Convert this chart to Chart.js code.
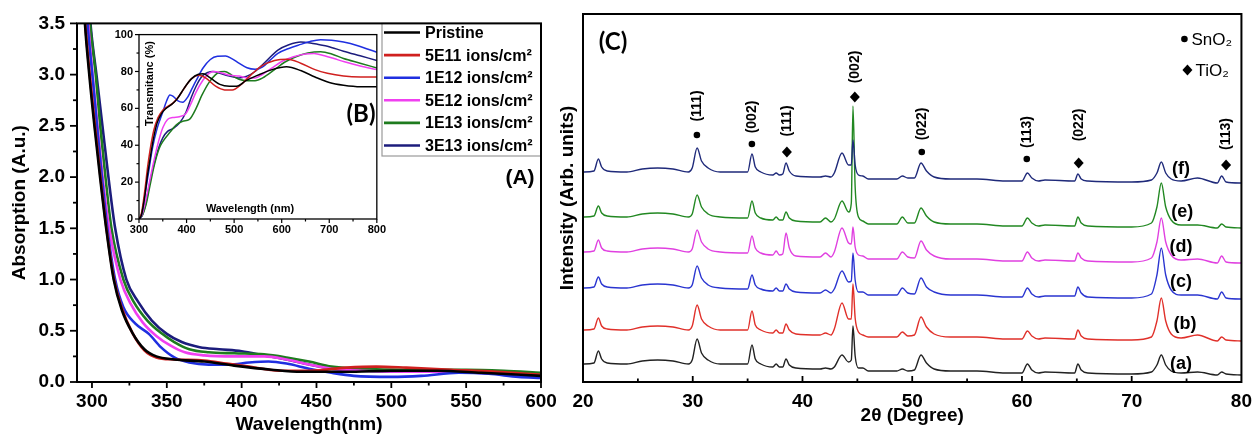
<!DOCTYPE html>
<html><head><meta charset="utf-8">
<script src="https://cdn.jsdelivr.net/npm/chart.js@4.4.1/dist/chart.umd.min.js"></script>
<style>
html,body{margin:0;padding:0;background:#fff;}
body{width:1260px;height:435px;position:relative;overflow:hidden;}
canvas{position:absolute;}
</style></head>
<body>
<canvas id="chartA" width="570" height="435" style="left:0;top:0"></canvas>
<canvas id="chartC" width="715" height="435" style="left:545px;top:0"></canvas>
<canvas id="chartB" width="290" height="222" style="left:100px;top:22px"></canvas>
<script>
// ---------------- Panel A: absorption ----------------
const absLabels = ['Pristine', '5E11 ions/cm²', '1E12 ions/cm²', '5E12 ions/cm²', '1E13 ions/cm²', '3E13 ions/cm²'];
const absPristine = [[292,4.4],[295.3,3.5],[298.2,3.0],[302,2.45],[305.4,2.0],[309.5,1.5],[314.5,1.0],[320,0.7],[327,0.48],[335,0.32],[343,0.25],[355,0.22],[375,0.2],[395,0.16],[420,0.12],[440,0.1],[470,0.1],[500,0.11],[530,0.11],[560,0.09],[600,0.06]];
const abs5E11 = [[292,4.3],[295.5,3.5],[298.5,3.0],[302,2.5],[305.7,2.0],[309.7,1.5],[314.8,1.0],[320,0.72],[327,0.48],[335,0.31],[343,0.24],[355,0.22],[375,0.21],[390,0.18],[405,0.15],[425,0.11],[445,0.11],[470,0.14],[490,0.15],[510,0.14],[540,0.12],[570,0.1],[600,0.07]];
const abs1E12 = [[293,4.4],[297,3.5],[300.9,2.9],[304,2.4],[307,1.95],[310.3,1.5],[315.5,1.0],[321,0.73],[329,0.57],[338,0.47],[346,0.34],[355,0.24],[365,0.19],[378,0.17],[392,0.17],[405,0.19],[418,0.2],[430,0.18],[445,0.13],[460,0.09],[475,0.06],[500,0.05],[520,0.06],[545,0.09],[565,0.08],[585,0.05],[600,0.04]];
const abs5E12 = [[293.5,4.4],[297.5,3.5],[301,2.9],[304,2.45],[307.5,1.95],[311.5,1.5],[319,1.0],[326,0.76],[334,0.58],[343,0.45],[352,0.36],[362,0.29],[375,0.26],[395,0.25],[415,0.25],[430,0.22],[445,0.17],[460,0.13],[480,0.11],[510,0.1],[540,0.1],[570,0.08],[600,0.06]];
const abs1E13 = [[294.5,4.4],[298.7,3.5],[302.5,3.0],[305.5,2.5],[309,2.0],[313,1.5],[321,1.0],[328,0.78],[337,0.6],[346,0.48],[355,0.39],[365,0.32],[378,0.29],[395,0.28],[415,0.27],[430,0.24],[445,0.2],[460,0.15],[480,0.13],[510,0.12],[550,0.12],[575,0.11],[600,0.09]];
const abs3E13 = [[295,4.4],[299,3.5],[303,3.0],[307,2.5],[311,2.0],[315.5,1.5],[323,1.0],[331,0.78],[340,0.6],[350,0.47],[360,0.39],[372,0.34],[385,0.32],[400,0.3],[415,0.26],[430,0.22],[445,0.17],[460,0.13],[480,0.11],[510,0.1],[550,0.1],[575,0.08],[600,0.07]];
const absTicksX = [300, 350, 400, 450, 500, 550, 600];
const absMinorX = [325, 375, 425, 475, 525, 575];
const absTicksY = [0, 0.5, 1.0, 1.5, 2.0, 2.5, 3.0, 3.5];
const absMinorY = [0.25, 0.75, 1.25, 1.75, 2.25, 2.75, 3.25];

// ---------------- Panel B: transmittance inset ----------------
const trPristine = [[300,0],[305,2],[312,12],[318,24],[323,32],[330,43],[338,52],[347,57],[357,60],[368,62],[380,65],[395,71],[410,76],[425,78.5],[435,78.8],[450,76.5],[470,73],[490,72],[505,72],[525,75],[550,78],[580,81],[610,82.5],[640,80.5],[670,77],[700,74],[730,72.5],[766,71.7],[800,71.7]];
const tr5E11 = [[300,0],[305,3],[312,15],[318,28],[323,37],[331,48],[340,55],[350,59],[360,61],[372,63],[385,67],[398,72],[410,76],[426,78],[440,76.5],[461,72],[480,70],[496,70],[515,73],[535,78],[558,83],[585,86],[613,86.7],[640,84.5],[670,81],[696,79],[730,77.5],[766,77],[800,77]];
const tr1E12 = [[300,0],[305,2],[313,14],[320,25],[328,38],[338,49],[350,58],[358,64],[365,67.3],[372,66.5],[382,64],[392,63.3],[402,66],[412,71],[420,75],[435,82],[450,86.5],[465,88.2],[482,88.4],[495,87],[510,84.5],[527,82],[544,81.2],[560,82.5],[575,86],[592,89.8],[615,92.5],[640,94.7],[660,96.3],[682,97.2],[705,97],[730,96],[760,94],[800,90.4]];
const tr5E12 = [[300,0],[306,2],[314,10],[322,20],[330,30],[340,41],[350,49.5],[360,54],[371,55],[385,55.5],[398,57],[410,63],[420,68.8],[435,75.5],[447,79],[458,80],[470,79.5],[490,78],[510,77.5],[530,76.5],[544,76.5],[560,78.5],[580,82],[600,85.4],[625,88],[650,89.5],[668,89.8],[690,88.5],[710,87],[730,85.4],[765,83],[800,81]];
const tr1E13 = [[300,0],[307,2],[315,8],[323,18],[332,29],[342,38],[350,42],[365,47],[378,51],[392,53],[406,54],[420,60],[432,67],[447,74],[460,78],[470,79.8],[480,80],[495,78],[510,75.8],[530,75],[544,75],[560,76.5],[585,81],[606,85],[630,88],[655,90],[682,90.7],[705,89.5],[730,87],[765,84.5],[800,81.9]];
const tr3E13 = [[300,0],[307,2],[315,9],[323,20],[332,30],[342,39],[350,44],[360,47.5],[371,49],[385,52],[399,58],[410,66],[420,72],[433,77.5],[445,79.5],[455,80],[470,79],[490,77.5],[510,76.5],[527,77.5],[544,80],[565,85],[592,91.6],[615,94.5],[640,96],[660,95.5],[680,94.5],[696,93.7],[730,91],[765,88.5],[800,86]];
const trTicksX = [300, 400, 500, 600, 700, 800];
const trMinorX = [350, 450, 550, 650, 750];
const trTicksY = [0, 20, 40, 60, 80, 100];
const trMinorY = [10, 30, 50, 70, 90];

// ---------------- Panel C: XRD ----------------
const xrdTwoTheta = [20,21.0,21.4,21.7,22.2,24,25.4,26.8,28.2,29.6,29.95,30.4,30.8,31.4,32.5,35.0,35.4,35.7,36.2,37.3,37.6,37.9,38.2,38.5,38.8,39.4,41.6,42.1,42.6,42.9,43.6,44.2,44.45,44.6,44.8,45.1,45.5,46.0,48.6,49.1,49.6,50.2,50.8,51.3,52.0,53.5,55.9,58.5,60.0,60.5,60.9,61.5,62.1,64.8,65.1,65.4,66.0,70.0,71.8,72.3,72.7,73.1,73.6,74.5,76.0,77.8,78.2,78.6,80];
const xrdA = [18,19,31,23,19,18,21,22,21,18,22,43,29,22,18,18,37,23,18,15,18,15,15,23,17,14,13,14,13,15,27,20,22,56,26,14,14,11,11,13,11,12,27,19,13,11,11,9,9,18,12,9,10,9,18,12,9,8,10,17,27,17,11,9,10,7,10,8,7];
const xrdB = [52,53,64,56,53,52,55,56,55,52,56,77,63,56,52,52,71,57,52,49,52,49,49,58,52,48,47,49,47,53,79,63,63,98,64,50,47,45,45,50,46,47,65,55,48,45,45,43,43,51,46,43,44,43,52,46,43,42,45,61,84,61,48,44,47,41,45,42,41];
const xrdC = [94,95,105,98,95,94,97,98,97,94,97,116,104,97,94,93,107,97,93,91,94,91,91,98,93,90,89,92,89,93,111,100,101,129,102,90,90,87,87,94,89,88,104,95,90,87,87,85,85,94,88,85,86,86,95,89,85,84,88,107,134,107,92,87,87,83,90,84,83];
const xrdD = [130,131,142,134,131,130,133,134,133,130,133,152,140,133,130,129,146,134,129,127,131,127,128,149,134,126,125,129,125,130,154,139,138,155,135,127,126,123,123,130,125,124,141,132,126,123,123,121,121,130,124,121,122,121,129,124,121,120,124,140,164,140,127,122,123,119,126,120,119];
const xrdE = [165,166,176,169,166,165,168,169,168,165,168,187,175,168,165,164,181,169,164,162,165,162,162,170,164,161,160,164,160,163,181,170,179,276,195,165,161,158,158,165,159,159,174,166,160,158,158,156,156,164,159,156,157,156,165,159,156,155,159,175,199,175,162,157,157,154,158,155,154];
const xrdF = [210,211,223,215,211,210,213,214,213,210,214,234,221,214,210,210,228,215,210,207,209,207,208,219,211,206,205,206,205,209,229,217,217,242,217,207,206,203,203,206,204,204,219,211,205,203,203,201,201,209,204,201,202,201,208,203,201,200,202,209,220,209,203,201,204,199,206,200,199];
const xrdTags = ['(a)', '(b)', '(c)', '(d)', '(e)', '(f)'];
const xrdTicksX = [20, 30, 40, 50, 60, 70, 80];
const xrdMinorX = [25, 35, 45, 55, 65, 75];
const peakHkl = ['(111)', '(002)', '(111)', '(002)', '(022)', '(113)', '(022)', '(113)'];
const peakPhase = ['SnO₂', 'SnO₂', 'TiO₂', 'TiO₂', 'SnO₂', 'SnO₂', 'TiO₂', 'TiO₂'];
const peakAngle = [30.38, 35.39, 38.58, 44.77, 50.87, 60.44, 65.17, 78.6];

// ---------------- styles ----------------
const FONT = "'Liberation Sans', Arial, Helvetica, sans-serif";
const CAL = "Lato, 'Open Sans', sans-serif";
Chart.defaults.font.family = FONT;
Chart.defaults.color = '#000';
const seriesColorsA = ['#000000', '#d0201f', '#1f2fe0', '#f040f0', '#1e7b1e', '#1c1c7c'];
const seriesColorsC = ['#222222', '#e0302a', '#2a35d0', '#e040e0', '#228822', '#1f2a7a'];

function txt(ctx, s, x, y, font, align, base, rot) {
  ctx.save();
  ctx.font = font; ctx.fillStyle = '#000';
  ctx.textAlign = align || 'center'; ctx.textBaseline = base || 'middle';
  ctx.translate(x, y);
  if (rot) ctx.rotate(rot);
  ctx.fillText(s, 0, 0);
  ctx.restore();
}

function framePlugin(id, cfg, extra) {
  return {
    id,
    beforeDraw(chart) {
      if (!cfg.bg) return;
      const a = chart.chartArea, ctx = chart.ctx;
      ctx.save(); ctx.fillStyle = cfg.bg;
      ctx.fillRect(a.left, a.top, a.right - a.left, a.bottom - a.top);
      ctx.restore();
    },
    afterDraw(chart) {
      const {ctx, chartArea: a, scales} = chart;
      if (extra) extra(chart, ctx, a, scales);
      ctx.save();
      ctx.strokeStyle = '#000';
      ctx.lineWidth = cfg.tickWidth;
      const tick = (axis, vals, len, dir) => {
        const s = scales[axis];
        vals.forEach(v => {
          const p = s.getPixelForValue(v);
          ctx.beginPath();
          if (axis === 'x') {
            ctx.moveTo(p, a.bottom); ctx.lineTo(p, dir === 'out' ? a.bottom + len : a.bottom - len);
          } else {
            ctx.moveTo(a.left, p); ctx.lineTo(dir === 'out' ? a.left - len : a.left + len, p);
          }
          ctx.stroke();
        });
      };
      if (cfg.x) { tick('x', cfg.x.major, cfg.x.majLen, cfg.x.dir); tick('x', cfg.x.minor, cfg.x.minLen, cfg.x.dir); }
      if (cfg.y) { tick('y', cfg.y.major, cfg.y.majLen, cfg.y.dir); tick('y', cfg.y.minor, cfg.y.minLen, cfg.y.dir); }
      ctx.lineWidth = cfg.frameWidth;
      ctx.strokeRect(a.left, a.top, a.right - a.left, a.bottom - a.top);
      ctx.restore();
    }
  };
}

const toXY = arr => arr.map(p => ({x: p[0], y: p[1]}));
const baseOpts = {responsive: false, animation: false, devicePixelRatio: 1, events: [],
  plugins: {legend: {display: false}, tooltip: {enabled: false}}};

// ---------- Chart A ----------
const absSeries = [absPristine, abs5E11, abs1E12, abs5E12, abs1E13, abs3E13];
new Chart(document.getElementById('chartA'), {
  type: 'line',
  data: {datasets: absSeries.map((s, i) => ({
    label: absLabels[i], data: toXY(s), borderColor: seriesColorsA[i], borderWidth: 2.6,
    pointRadius: 0, fill: false, cubicInterpolationMode: 'monotone'}))},
  options: Object.assign({}, baseOpts, {
    layout: {padding: {left: 0, top: 19, right: 29, bottom: 0}},
    scales: {
      x: {type: 'linear', min: 290, max: 600,
        afterBuildTicks: s => { s.ticks = absTicksX.map(v => ({value: v})); },
        afterFit: s => { s.height = 53; },
        grid: {display: false, drawTicks: false}, border: {display: false},
        ticks: {font: {size: 19, weight: 'bold'}, padding: 8, maxRotation: 0, autoSkip: false},
        title: {display: true, text: 'Wavelength(nm)', font: {size: 19, weight: 'bold', lineHeight: 1}, padding: {top: 0, bottom: 0.5}}},
      y: {type: 'linear', min: 0, max: 3.5,
        afterBuildTicks: s => { s.ticks = absTicksY.map(v => ({value: v})); },
        afterFit: s => { s.width = 77; },
        grid: {display: false, drawTicks: false}, border: {display: false},
        ticks: {font: {size: 19, weight: 'bold'}, padding: 12, autoSkip: false, callback: v => Number(v).toFixed(1)},
        title: {display: true, text: 'Absorption (A.u.)', font: {size: 19, weight: 'bold', lineHeight: 1}, padding: {top: 10.5, bottom: 0}}}
    }
  }),
  plugins: [framePlugin('frameA', {
    frameWidth: 2, tickWidth: 1.8,
    x: {major: absTicksX, minor: absMinorX, majLen: 6, minLen: 3.5, dir: 'out'},
    y: {major: absTicksY, minor: absMinorY, majLen: 7, minLen: 4, dir: 'out'}
  }, (chart, ctx, a) => {
    const bx = 382, by = a.top, bw = a.right - 382, bh = 156 - a.top;
    ctx.save();
    ctx.fillStyle = '#fff'; ctx.fillRect(bx, by, bw, bh);
    ctx.strokeStyle = '#9a9a9a'; ctx.lineWidth = 1.2; ctx.strokeRect(bx, by, bw, bh);
    chart.data.datasets.forEach((ds, i) => {
      const y = 32.5 + i * 22.6;
      ctx.strokeStyle = ds.borderColor; ctx.lineWidth = 2.6;
      ctx.beginPath(); ctx.moveTo(384, y); ctx.lineTo(420, y); ctx.stroke();
      txt(ctx, ds.label, 425, y + 1, 'bold 16px ' + FONT, 'left', 'middle');
    });
    ctx.restore();
    txt(ctx, '(A)', 520, 178, 'bold 21px ' + FONT);
  })]
});

// ---------- Chart B (inset) ----------
const trSeries = [trPristine, tr5E11, tr1E12, tr5E12, tr1E13, tr3E13];
new Chart(document.getElementById('chartB'), {
  type: 'line',
  data: {datasets: trSeries.map((s, i) => ({
    label: absLabels[i], data: toXY(s), borderColor: seriesColorsA[i], borderWidth: 1.5,
    pointRadius: 0, fill: false, cubicInterpolationMode: 'monotone'}))},
  options: Object.assign({}, baseOpts, {
    layout: {padding: {left: 0, top: 7, right: 10, bottom: 0}},
    scales: {
      x: {type: 'linear', min: 300, max: 800,
        afterBuildTicks: s => { s.ticks = trTicksX.map(v => ({value: v})); },
        afterFit: s => { s.height = 25; },
        grid: {display: false, drawTicks: false}, border: {display: false},
        ticks: {font: {size: 11, weight: 'bold'}, padding: 4, maxRotation: 0, autoSkip: false}},
      y: {type: 'linear', min: 0, max: 100,
        afterBuildTicks: s => { s.ticks = trTicksY.map(v => ({value: v})); },
        afterFit: s => { s.width = 39; },
        grid: {display: false, drawTicks: false}, border: {display: false},
        ticks: {font: {size: 11, weight: 'bold'}, padding: 6, autoSkip: false}}
    }
  }),
  plugins: [framePlugin('frameB', {
    bg: '#fff', frameWidth: 1.3, tickWidth: 1.2,
    x: {major: trTicksX, minor: trMinorX, majLen: 4, minLen: 2.5, dir: 'out'},
    y: {major: trTicksY, minor: trMinorY, majLen: 4, minLen: 2.5, dir: 'out'}
  }, (chart, ctx, a) => {
    txt(ctx, 'Transmitanc (%)', a.left + 11, a.top + 49, 'bold 11px ' + FONT, 'center', 'middle', -Math.PI / 2);
    txt(ctx, 'Wavelength (nm)', a.left + 111, a.bottom - 10, 'bold 11px ' + FONT);
    txt(ctx, '(B)', a.left + 222, a.top + 80, 'bold 24px ' + CAL);
  })]
});

// ---------- Chart C (XRD) ----------
const xrdSeries = [xrdA, xrdB, xrdC, xrdD, xrdE, xrdF];
new Chart(document.getElementById('chartC'), {
  type: 'line',
  data: {datasets: xrdSeries.map((s, i) => ({
    label: xrdTags[i], data: xrdTwoTheta.map((t, j) => ({x: t, y: s[j]})),
    borderColor: seriesColorsC[i], borderWidth: 1.4, pointRadius: 0, fill: false,
    cubicInterpolationMode: 'monotone', order: 5 - i}))},
  options: Object.assign({}, baseOpts, {
    layout: {padding: {left: 0, top: 14, right: 18, bottom: 0}},
    scales: {
      x: {type: 'linear', min: 20, max: 80,
        afterBuildTicks: s => { s.ticks = xrdTicksX.map(v => ({value: v})); },
        afterFit: s => { s.height = 53; },
        grid: {display: false, drawTicks: false}, border: {display: false},
        ticks: {font: {size: 19, weight: 'bold'}, padding: 8, maxRotation: 0, autoSkip: false},
        title: {display: true, text: '2θ (Degree)', font: {size: 19, weight: 'bold', lineHeight: 1}, padding: {top: 0, bottom: 9.5}}},
      y: {type: 'linear', min: 0, max: 368,
        afterFit: s => { s.width = 38; },
        grid: {display: false, drawTicks: false}, border: {display: false},
        ticks: {display: false},
        title: {display: true, text: 'Intensity (Arb. units)', font: {size: 19, weight: 'bold', lineHeight: 1}, padding: {top: 13.5, bottom: 0}}}
    }
  }),
  plugins: [framePlugin('frameC', {
    frameWidth: 2, tickWidth: 1.8,
    x: {major: xrdTicksX.slice(1, -1), minor: xrdMinorX, majLen: 6, minLen: 3.5, dir: 'in'}
  }, (chart, ctx, a, scales) => {
    const sx = scales.x, sy = scales.y;
    const markY = [247, 238, 230, 285, 230, 223, 219, 217];
    const labY = [276, 265, 261, 315, 258, 250, 257, 248];
    const drawMark = (kind, x, y) => {
      ctx.save(); ctx.fillStyle = '#000'; ctx.beginPath();
      if (kind === 'SnO₂') { ctx.arc(x, y, 3.3, 0, Math.PI * 2); }
      else { ctx.moveTo(x, y - 5.5); ctx.lineTo(x + 5, y); ctx.lineTo(x, y + 5.5); ctx.lineTo(x - 5, y); ctx.closePath(); }
      ctx.fill(); ctx.restore();
    };
    peakAngle.forEach((t, i) => {
      const x = sx.getPixelForValue(t);
      drawMark(peakPhase[i], x, sy.getPixelForValue(markY[i]));
      txt(ctx, peakHkl[i], x, sy.getPixelForValue(labY[i]), 'bold 14px ' + FONT, 'center', 'middle', -Math.PI / 2);
    });
    const tagX = [74.5, 74.85, 74.5, 74.5, 74.6, 74.5];
    const tagY = [18, 58, 100, 135, 170, 213];
    xrdTags.forEach((s, i) => {
      txt(ctx, s, sx.getPixelForValue(tagX[i]), sy.getPixelForValue(tagY[i]), 'bold 18px ' + FONT);
    });
    const lx = a.right - 57;
    drawMark('SnO₂', lx, 39);
    txt(ctx, 'SnO₂', lx + 7, 40, '17px ' + FONT, 'left', 'middle');
    drawMark('TiO₂', lx + 3, 70);
    txt(ctx, 'TiO₂', lx + 11, 71, '17px ' + FONT, 'left', 'middle');
    txt(ctx, '(C)', a.left + 30, 42, 'bold 24px ' + CAL);
  })]
});
</script>
</body></html>
